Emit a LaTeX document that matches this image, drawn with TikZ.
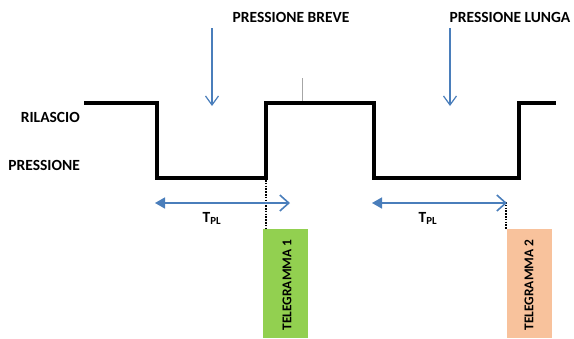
\documentclass[tikz,border=0pt]{standalone}
\usepackage{fontspec}
\setmainfont{Carlito}
\usetikzlibrary{arrows.meta}
\definecolor{arrblue}{HTML}{4A7EBB}
\definecolor{tgreen}{HTML}{92D050}
\definecolor{torange}{HTML}{F8C29C}
\begin{document}
\begin{tikzpicture}[x=1pt,y=-1pt,
  lbl/.style={font=\bfseries\fontsize{15.5}{17}\selectfont, inner sep=0pt},
  wave/.style={line width=4.5pt, line join=miter},
  downarr/.style={arrblue, line width=1.2pt, -{Straight Barb[length=9pt,width=13pt,line width=1.2pt]}},
  tplarr/.style={arrblue, line width=1.6pt, {Triangle[length=10pt,width=11pt]}-{Straight Barb[length=9pt,width=16pt,line width=1.6pt]}},
  dots/.style={line width=1.6pt, dash pattern=on 1.6pt off 1.2pt},
  tbox/.style={minimum width=45pt, minimum height=109pt, inner sep=0pt, anchor=north west},
  tlbl/.style={font=\bfseries\fontsize{13.4}{15}\selectfont, rotate=90, inner sep=0pt}
]
\useasboundingbox (0,0) rectangle (574,338);
% labels
\node[lbl, anchor=base east] (ril) at (80,122) {RILASCIO};
\node[lbl, anchor=base east] (pre) at (80,170) {PRESSIONE};
\node[lbl, anchor=base] (breve) at (291,22) {PRESSIONE BREVE};
\node[lbl, anchor=base] (lunga) at (510,22) {PRESSIONE LUNGA};
% waveform
\draw[wave] (84,103) -- (157,103) -- (157,178) -- (266,178) -- (266,103) -- (374,103) -- (374,178) -- (519,178) -- (519,103) -- (556,103);
% small tick
\draw[gray!70, line width=0.8pt] (302,78) -- (302,101);
% down arrows
\coordinate (b1) at (212,28); \coordinate (b2) at (212,106);
\coordinate (l1) at (450,28); \coordinate (l2) at (450,106);
\draw[downarr] (b1) -- (b2);
\draw[downarr] (l1) -- (l2);
% boxes
\node[tbox, fill=tgreen] (t1) at (263,229) {};
\node[tbox, fill=torange] (t2) at (507,229) {};
\node[tlbl] at (287,285) {TELEGRAMMA 1};
\node[tlbl] at (529,285) {TELEGRAMMA 2};
% dotted lines
\coordinate (d1) at (266,180);
\coordinate (d2) at (506,202);
\draw[dots] (d1) -- (d1 |- t1.north);
\draw[dots] (d2) -- (d2 |- t2.north);
% TPL arrows
\coordinate (a1) at (155,203); \coordinate (a2) at (290,203);
\coordinate (c1) at (372,203); \coordinate (c2) at (507,203);
\draw[tplarr] (a1) -- (a2);
\draw[tplarr] (c1) -- (c2);
\node[lbl, anchor=base] (tp1) at (212,222) {T\textsubscript{PL}};
\node[lbl, anchor=base] (tp2) at (428,222) {T\textsubscript{PL}};
\end{tikzpicture}
\end{document}
